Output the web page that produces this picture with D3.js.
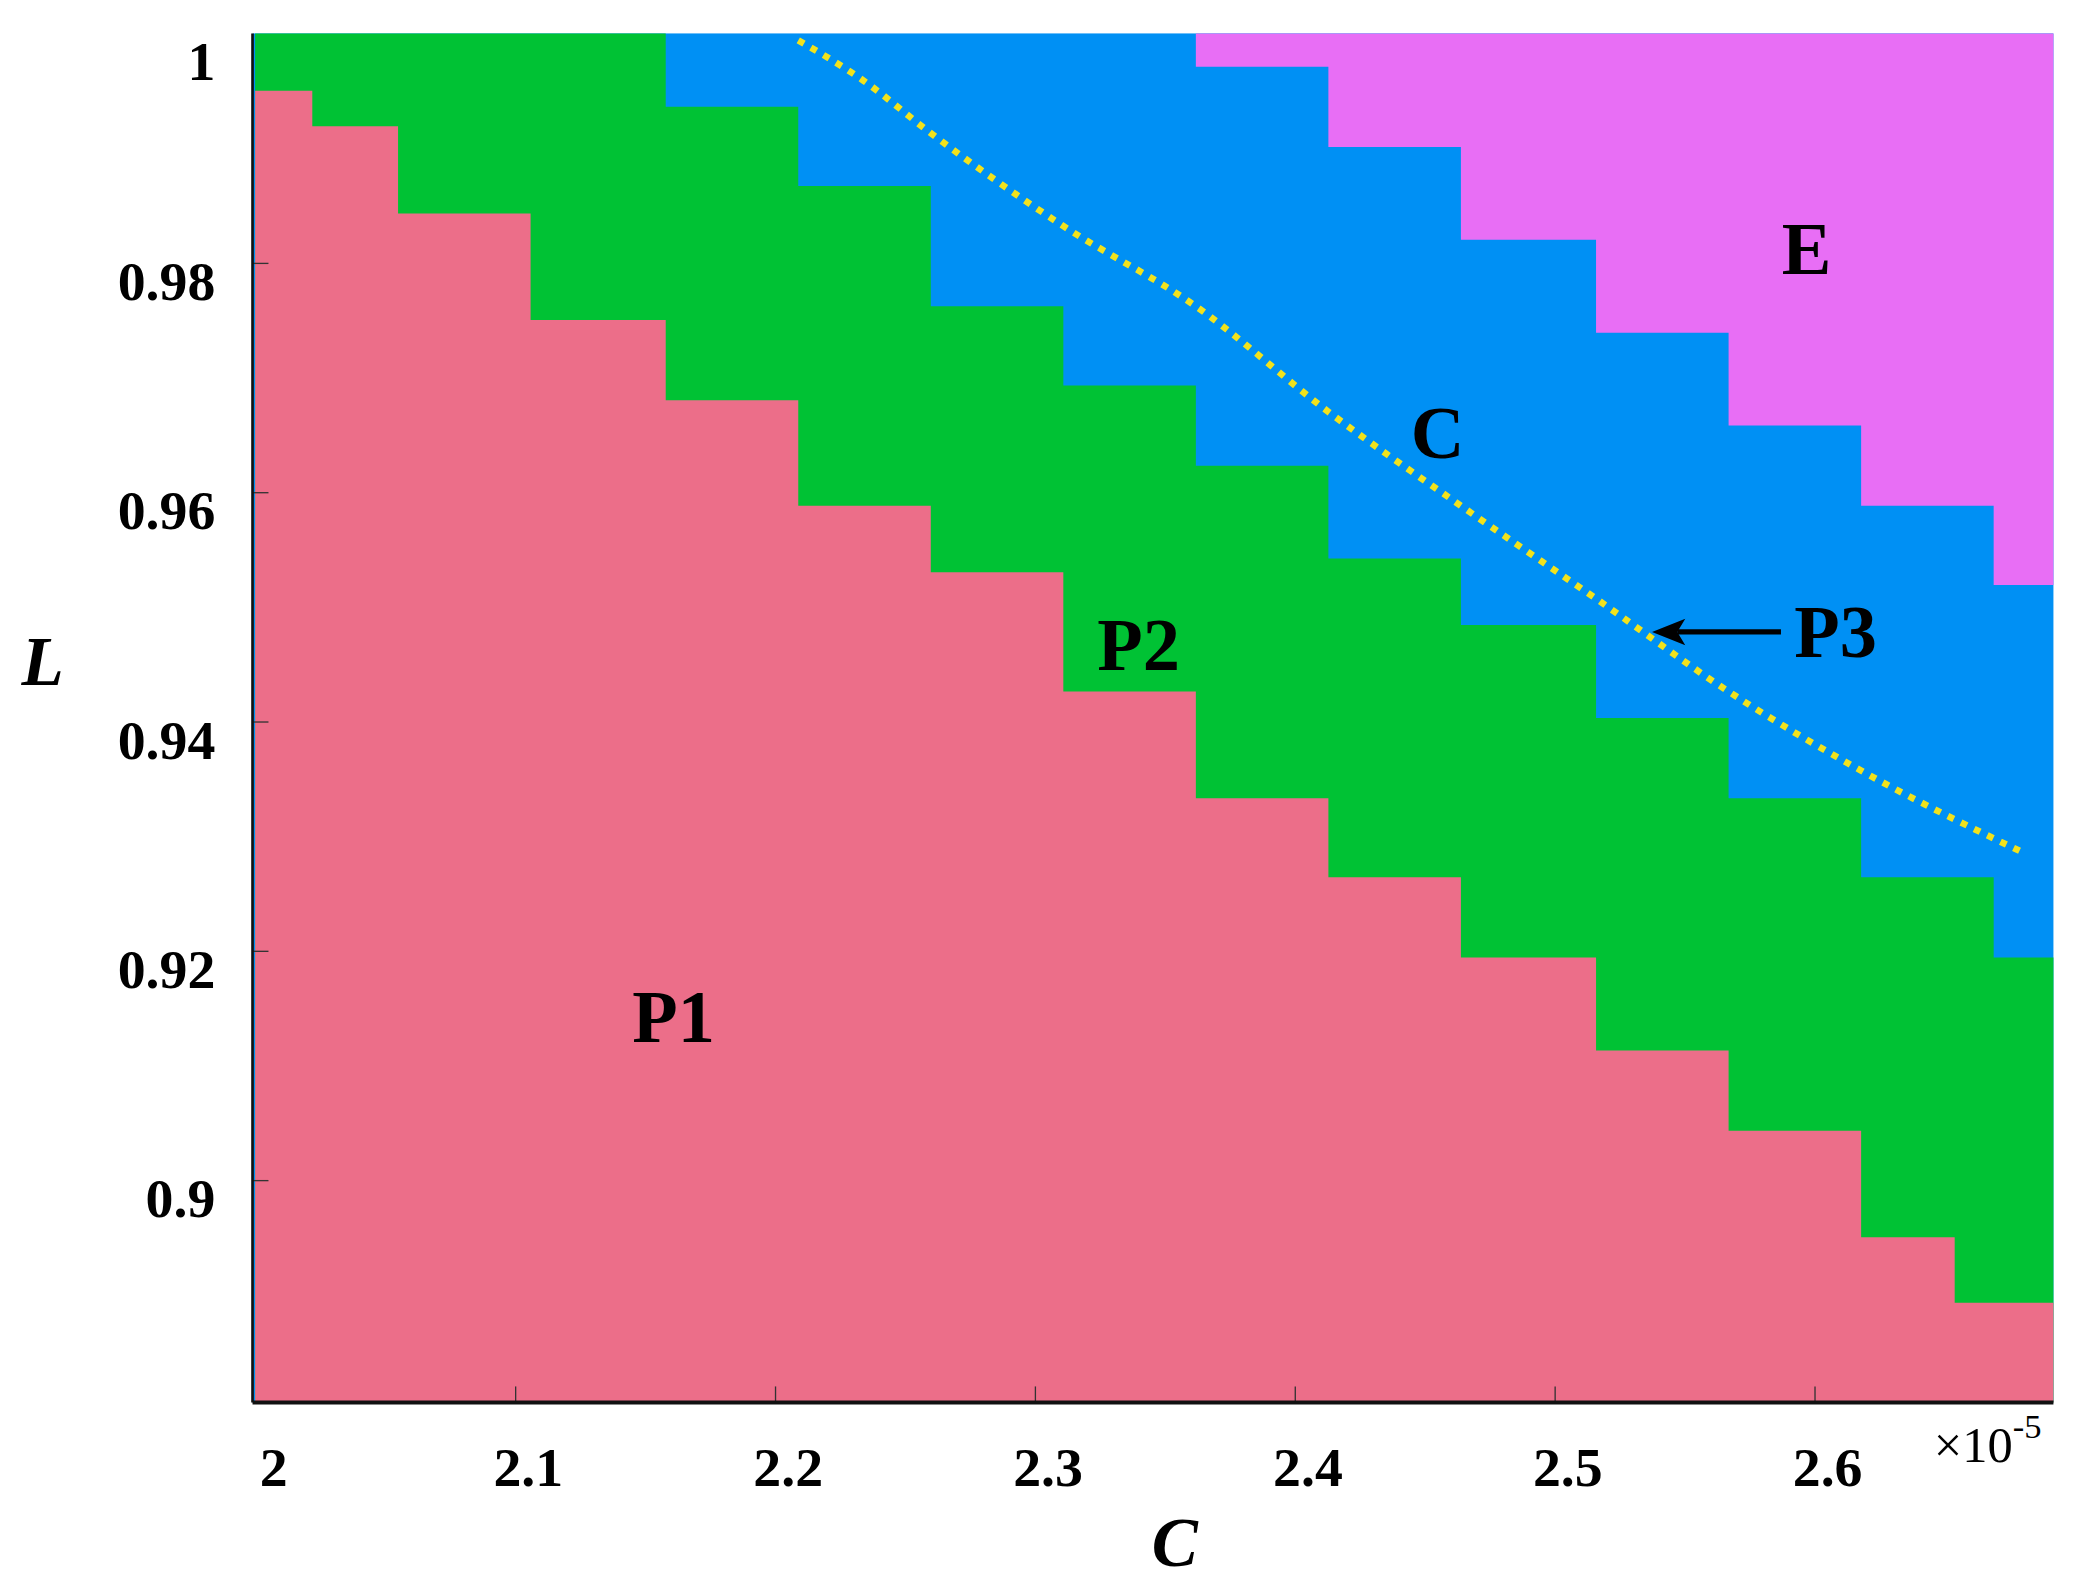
<!DOCTYPE html>
<html>
<head>
<meta charset="utf-8">
<script src="https://cdn.jsdelivr.net/npm/d3@7"></script>
<style>
  body { margin: 0; background: #fff; }
  text { font-family: "Liberation Serif", "DejaVu Serif", serif; font-weight: bold; fill: #000; }
</style>
</head>
<body>
<div id="chart"></div>
<script>
// region boundaries, [C (x1e-5), L]
const p1Top = [[2.0, 0.995], [2.022, 0.9919], [2.055, 0.9843], [2.106, 0.975], [2.158, 0.968], [2.209, 0.9588],
  [2.26, 0.953], [2.311, 0.9426], [2.362, 0.9333], [2.413, 0.9264], [2.464, 0.9194], [2.516, 0.9113],
  [2.567, 0.9043], [2.618, 0.895], [2.654, 0.8893], [2.692, 0.8835]];
const p2Top = [[2.0, 1.0], [2.122, 1.0], [2.158, 0.9936], [2.209, 0.9867], [2.26, 0.9762], [2.311, 0.9693],
  [2.362, 0.9623], [2.413, 0.9542], [2.464, 0.9484], [2.516, 0.9403], [2.567, 0.9333], [2.618, 0.9264],
  [2.669, 0.9194], [2.692, 0.9142]];
const eBottom = [[2.337, 1.0], [2.362, 0.9971], [2.413, 0.9901], [2.464, 0.982], [2.516, 0.9739],
  [2.567, 0.9658], [2.618, 0.9588], [2.669, 0.9519], [2.692, 0.9496]];
const p3Line = [[2.209, 0.9994], [2.234, 0.9959], [2.26, 0.9913], [2.311, 0.9832], [2.362, 0.9762],
  [2.413, 0.967], [2.464, 0.9588], [2.516, 0.9507], [2.567, 0.9426], [2.618, 0.9357], [2.679, 0.9287]];
const xTicks = [2, 2.1, 2.2, 2.3, 2.4, 2.5, 2.6];
const yTicks = [0.9, 0.92, 0.94, 0.96, 0.98, 1];
const regionLabels = [
  { t: "P1", c: 2.161, l: 0.912 },
  { t: "P2", c: 2.34, l: 0.9445 },
  { t: "C", c: 2.455, l: 0.963 },
  { t: "E", c: 2.597, l: 0.979 },
];

;(function () {
  const W = 1568, H = 1193;
  const pLeft = 190, pRight = 1545, pTop = 25, pBottom = 1055;

  const svg = d3.select("#chart").append("svg")
    .attr("width", 2084).attr("height", 1586)
    .attr("viewBox", `0 0 ${W} ${H}`);

  const x = d3.scaleLinear().domain([1.999, 2.692]).range([pLeft, pRight]);
  const y = d3.scaleLinear().domain([0.8806, 1]).range([pBottom, pTop]);

  const below = d3.area().x(d => x(d[0])).y0(pBottom).y1(d => y(d[1])).curve(d3.curveStepAfter);
  const above = d3.area().x(d => x(d[0])).y0(pTop).y1(d => y(d[1])).curve(d3.curveStepAfter);

  svg.append("rect").attr("x", pLeft).attr("y", pTop).attr("width", pRight - pLeft).attr("height", pBottom - pTop).attr("fill", "#0090F4");
  svg.append("path").datum(p2Top).attr("d", below).attr("fill", "#00C234");
  svg.append("path").datum(p1Top).attr("d", below).attr("fill", "#EC6E89");
  svg.append("path").datum(eBottom).attr("d", above).attr("fill", "#E86EF5");
  svg.append("path").datum(p3Line)
    .attr("d", d3.line().x(d => x(d[0])).y(d => y(d[1])).curve(d3.curveMonotoneX))
    .attr("fill", "none").attr("stroke", "#F2E21C").attr("stroke-width", 5)
    .attr("stroke-dasharray", "5 6");

  // axes with inward ticks
  svg.append("g").attr("transform", `translate(0,${pBottom})`)
    .call(d3.axisTop(x).tickValues(xTicks.slice(1)).tickSize(12).tickFormat(""))
    .call(g => g.select(".domain").remove())
    .call(g => g.selectAll("line").attr("stroke", "#333"));
  svg.append("g").attr("transform", `translate(${pLeft},0)`)
    .call(d3.axisRight(y).tickValues(yTicks.slice(0, -1)).tickSize(12).tickFormat(""))
    .call(g => g.select(".domain").remove())
    .call(g => g.selectAll("line").attr("stroke", "#333"));
  svg.append("line").attr("x1", pLeft).attr("x2", pRight).attr("y1", pBottom).attr("y2", pBottom).attr("stroke", "#111").attr("stroke-width", 3);
  svg.append("line").attr("x1", pLeft).attr("x2", pLeft).attr("y1", pTop).attr("y2", pBottom).attr("stroke", "#111").attr("stroke-width", 2);

  svg.selectAll(".xl").data(xTicks).enter().append("text")
    .attr("x", d => d === 2 ? x(d) + 14 : x(d) + 10).attr("y", 1118)
    .attr("text-anchor", "middle").attr("font-size", 42).text(d => d === 2 ? "2" : d3.format(".1f")(d));
  svg.append("text").attr("x", 1455).attr("y", 1100).attr("font-size", 38).style("font-weight", "normal")
    .text("×10").append("tspan").attr("dy", -18).attr("font-size", 26).text("-5");

  const yFmt = d => d === 1 ? "1" : d === 0.9 ? "0.9" : d3.format(".2f")(d);
  svg.selectAll(".yl").data(yTicks).enter().append("text")
    .attr("x", 162).attr("y", d => d === 1 ? 60 : y(d) + 28)
    .attr("text-anchor", "end").attr("font-size", 42).text(yFmt);

  svg.append("text").attr("x", 884).attr("y", 1178).attr("text-anchor", "middle").attr("font-size", 52).style("font-style", "italic").text("C");
  svg.append("text").attr("x", 32).attr("y", 515).attr("text-anchor", "middle").attr("font-size", 52).style("font-style", "italic").text("L");

  svg.selectAll(".rl").data(regionLabels).enter().append("text")
    .attr("x", d => x(d.c)).attr("y", d => y(d.l))
    .attr("text-anchor", "middle").attr("font-size", 56).text(d => d.t);

  // P3 arrow
  const ay = y(0.9478);
  svg.append("text").attr("x", 1350).attr("y", ay + 19).attr("font-size", 56).text("P3");
  svg.append("line").attr("x1", 1340).attr("x2", 1262).attr("y1", ay).attr("y2", ay).attr("stroke", "#000").attr("stroke-width", 4);
  svg.append("path").attr("d", `M1243,${ay} L1268,${ay - 10} L1262,${ay} L1268,${ay + 10} Z`).attr("fill", "#000");
})()
</script>
</body>
</html>
